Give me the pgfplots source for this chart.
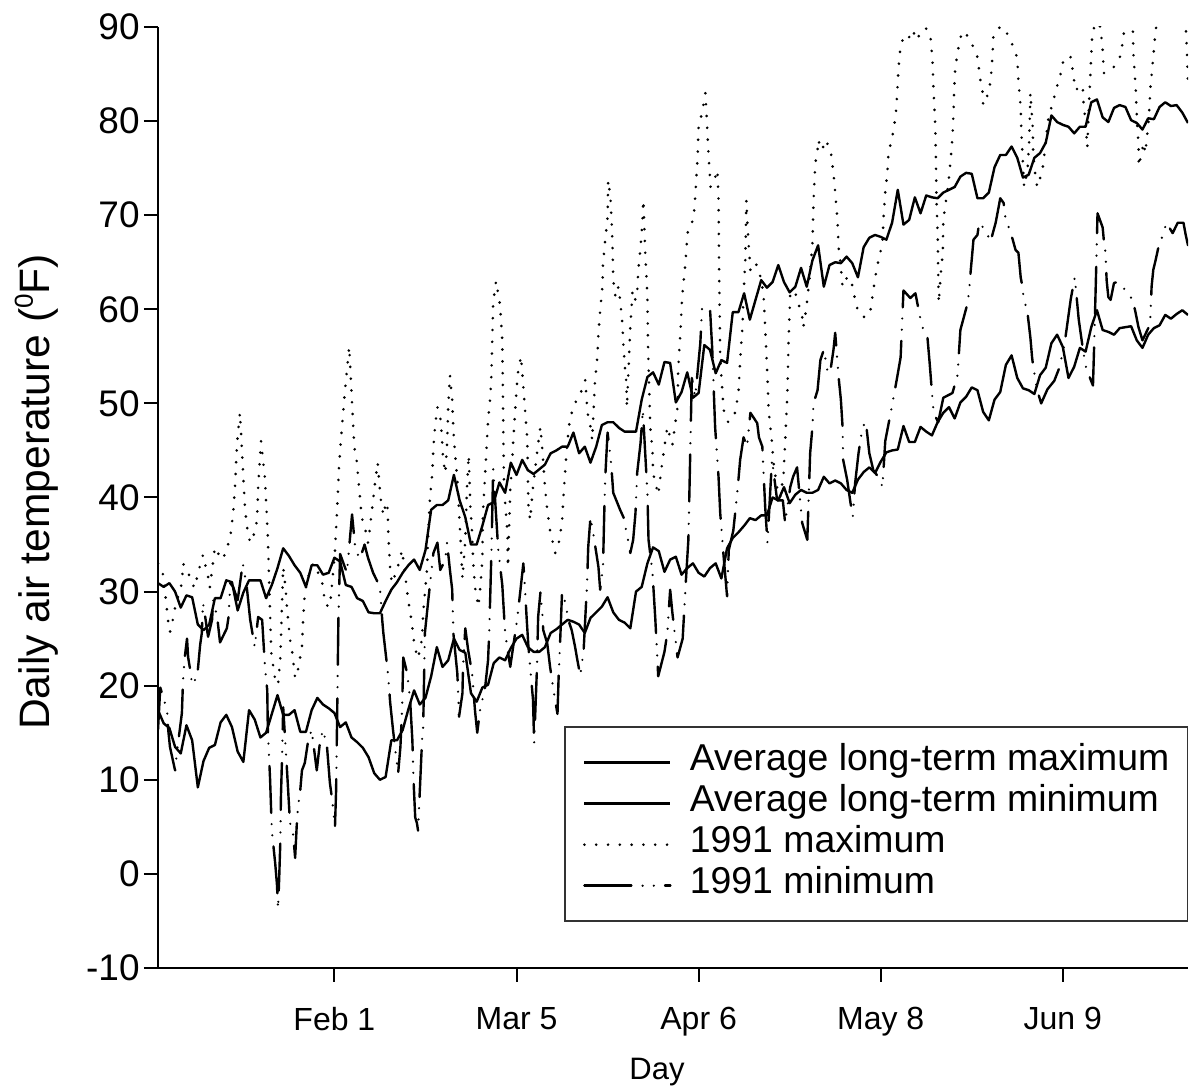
\documentclass[border=0pt]{standalone}
\usepackage{fontspec}
\setmainfont{Liberation Sans}
\usepackage{pgfplots}
\pgfplotsset{compat=1.18}

% daily averages (long-term)
\pgfplotstableread{
day ltmax ltmin
1 30.9 17.4
2 30.5 16.0
3 30.9 15.5
4 30.0 13.5
5 28.3 12.8
6 29.6 15.8
7 29.4 14.2
8 26.5 9.2
9 25.9 12.0
10 26.5 13.4
11 29.3 13.7
12 29.3 16.1
13 31.2 16.9
14 31.0 15.6
15 28.0 13.0
16 29.9 11.9
17 31.2 17.4
18 31.2 16.4
19 31.2 14.5
20 29.3 15.0
21 30.7 17.0
22 32.5 19.0
23 34.6 16.9
24 33.8 16.9
25 32.8 17.4
26 32.0 15.1
27 30.5 15.1
28 32.8 17.4
29 32.8 18.7
30 31.8 18.0
31 32.0 17.6
32 33.6 17.1
33 33.2 15.6
34 30.7 16.1
35 30.5 14.5
36 29.3 14.0
37 29.0 13.4
38 27.8 12.4
39 27.7 10.7
40 27.7 10.0
41 29.0 10.3
42 30.2 14.2
43 31.0 14.2
44 32.0 15.3
45 32.8 17.5
46 33.4 19.5
47 32.3 18.0
48 34.4 18.7
49 38.7 21.0
50 39.2 24.1
51 39.2 22.0
52 39.7 22.7
53 42.4 25.0
54 39.7 23.8
55 37.9 23.5
56 35.0 19.2
57 35.0 18.3
58 37.0 19.8
59 39.2 20.1
60 39.5 22.4
61 41.6 23.0
62 40.5 22.7
63 43.7 24.0
64 42.4 25.0
65 44.0 25.4
66 42.9 24.1
67 42.5 23.6
68 43.0 23.6
69 43.5 24.1
70 44.7 25.6
71 45.0 26.0
72 45.4 26.5
73 45.4 27.0
74 46.9 26.8
75 44.7 26.5
76 45.4 25.6
77 43.7 27.2
78 45.4 27.8
79 47.7 28.4
80 48.0 29.4
81 48.0 27.8
82 47.4 27.0
83 47.0 26.7
84 47.0 26.1
85 47.0 30.0
86 50.4 30.5
87 52.8 33.0
88 53.3 34.7
89 52.0 34.3
90 54.4 32.1
91 54.3 33.4
92 50.1 33.7
93 51.2 31.8
94 53.3 32.5
95 50.6 33.0
96 51.1 32.0
97 56.2 31.6
98 55.7 32.5
99 53.2 33.0
100 54.6 31.4
101 54.3 34.6
102 59.7 35.7
103 59.7 36.3
104 61.7 37.0
105 58.9 37.8
106 61.0 37.6
107 63.1 38.1
108 62.3 38.1
109 62.9 40.0
110 64.7 39.7
111 62.9 41.1
112 61.8 39.4
113 62.4 40.3
114 64.4 40.8
115 62.4 40.5
116 65.2 40.5
117 66.8 40.8
118 62.4 42.2
119 64.7 41.5
120 65.0 41.8
121 64.9 41.5
122 65.6 40.8
123 64.9 40.5
124 63.4 41.9
125 66.6 42.7
126 67.6 43.2
127 67.9 42.6
128 67.7 43.8
129 67.4 44.8
130 69.2 45.0
131 72.7 45.1
132 69.0 47.6
133 69.5 45.9
134 71.9 45.9
135 70.2 47.5
136 72.1 47.0
137 71.9 46.6
138 71.8 48.0
139 72.4 49.0
140 72.7 49.6
141 73.0 48.4
142 74.1 50.1
143 74.5 50.7
144 74.4 51.7
145 71.8 51.4
146 71.8 49.1
147 72.4 48.2
148 75.1 50.4
149 76.4 51.2
150 76.4 54.1
151 77.3 55.1
152 76.1 52.7
153 74.0 51.6
154 74.3 51.4
155 76.1 51.0
156 76.6 53.0
157 77.7 53.8
158 80.6 56.4
159 79.9 57.3
160 79.6 56.0
161 79.4 52.7
162 78.7 53.9
163 79.4 55.9
164 79.4 55.5
165 82.0 58.1
166 82.3 59.9
167 80.4 57.8
168 79.9 57.6
169 81.4 57.3
170 81.7 58.0
171 81.5 58.1
172 80.1 58.2
173 79.8 56.7
174 79.1 55.9
175 80.3 57.3
176 80.2 58.0
177 81.5 58.3
178 82.0 59.4
179 81.6 59.0
180 81.7 59.5
181 80.9 59.9
182 79.8 59.4
}\longterm

\begin{document}
\begin{tikzpicture}
\begin{axis}[
  at={(0,0)}, anchor=south west,
  scale only axis, width=515bp, height=470.5bp,
  xmin=1, xmax=182, ymin=-10, ymax=90,
  axis lines=left,
  every outer x axis line/.append style={-, line width=1bp},
  every outer y axis line/.append style={-, line width=1bp},
  tick align=outside, major tick length=7bp,
  tick style={line width=1bp, black},
  xtick={32,64,96,128,160},
  xticklabels={Feb 1, Mar 5, Apr 6, May 8, Jun 9},
  ytick={-10,0,...,90},
  /pgf/number format/assume math mode=true,
  xticklabel style={anchor=north, inner sep=0pt, yshift=-12.5bp,
    font=\fontsize{16bp}{16bp}\selectfont},
  yticklabel style={anchor=east, inner sep=0pt, xshift=-2bp,
    font=\fontsize{18.5bp}{18.5bp}\selectfont},
  xlabel={Day},
  xlabel style={at={(axis description cs:0.4845,-0.119)}, anchor=base,
    font=\fontsize{15.5bp}{15.5bp}\selectfont},
  ylabel={Daily air temperature (\raisebox{0.75ex}{\fontsize{13bp}{13bp}\selectfont 0}F)},
  ylabel style={at={(axis description cs:-0.105,0.506)}, anchor=base,
    font=\fontsize{21.3bp}{21.3bp}\selectfont},
  every axis plot/.append style={line width=1.2bp, black, line join=round},
  legend cell align=left,
  legend image code/.code={\draw[#1] (0bp,0bp) -- (43bp,0bp);},
  legend style={at={(1,0.049)}, anchor=south east,
    draw=black!80, line width=0.7bp, fill=white,
    inner xsep=9bp, inner ysep=7.5bp,
    column sep=9bp, row sep=0bp,
    font=\fontsize{18.7bp}{18.7bp}\selectfont,
    nodes={inner sep=0pt, text height=14.2bp, text depth=6.3bp}},
]
\addplot[solid] table[x=day, y=ltmax] {\longterm};
\addlegendentry{Average long-term maximum}
\addplot[solid] table[x=day, y=ltmin] {\longterm};
\addlegendentry{Average long-term minimum}
\addplot[line width=1.45bp, line cap=round, dash pattern=on 0bp off 5.9bp] coordinates {
(1,33)(1.9,31.8)(2.8,26.8)(3.1,25.7)(3.6,27)(4,28.3)(5.2,30.9)(5.4,33)(6.3,32)(7,30.9)(7.4,30.4)(7.9,31.6)(8.4,32.8)(8.9,33.9)(9.8,31.6)(10.1,30.4)(10.5,32.3)(11,34.7)(11.5,34.1)(12.4,33.4)(13.1,34.6)(13.7,35.8)(14.2,38.3)(14.5,40.8)(14.9,45.8)(15.4,49)(16.3,38.7)(16.8,36.2)(17.2,35.2)(18,36.3)(18.4,37.6)(18.6,41.1)(19.1,46)(19.8,42)(20.3,35.8)(20.9,23.5)(21.6,20.6)(22.1,20.1)(22.5,23)(22.8,28.8)(23,32.6)(23.4,30.5)(23.7,28)(24.2,24.9)(24.6,23.5)(25.1,20.8)(25.6,21.7)(26.3,24.1)(26.5,27)(26.8,29.9)(27.4,31.6)(28.3,33)(29.8,31.2)(30.4,28.6)(31.2,28.4)(31.6,30.9)(32.1,34.4)(32.5,39)(32.8,43.2)(33.1,45.8)(33.8,51)(34.6,56)(35.5,45.3)(35.9,44)(36.8,37.9)(37.6,36.2)(37.9,35.2)(38.2,36.5)(38.6,38.7)(38.9,40.3)(39.2,41.9)(39.6,43.7)(39.8,42.2)(40.1,40)(40.6,38.1)(40.9,39)(41.3,39.5)(41.5,35.8)(41.8,32.3)(42.1,30.9)(43,32.3)(43.9,34.4)(44.4,32)(44.9,29.4)(45.6,26.7)(46.1,24.1)(46.7,22.9)(47.4,25)(47.6,27.8)(48.3,32.6)(48.5,36.5)(48.8,40)(49.2,42.6)(49.4,45.4)(49.7,47.7)(50.1,49.6)(50.6,48.6)(50.9,46.4)(51.1,44)(51.5,42.6)(51.8,45.8)(52,49.6)(52.3,53)(52.7,50.4)(52.9,47.2)(53.2,44.7)(53.6,41.9)(54.1,36.2)(54.5,31.4)(55,35.5)(55.3,41.1)(55.6,44.5)(55.9,39)(56.2,36.2)(56.4,33)(56.7,30.5)(57.3,28.4)(57.6,30.2)(58,33.4)(58.1,38.4)(58.5,42.6)(59,48.2)(59.4,50.7)(59.6,53.2)(59.7,55.7)(59.9,60.7)(60.4,63)(61.1,60.5)(61.5,56.7)(61.6,51.7)(61.7,46.1)(61.8,41.1)(62.2,37.9)(62.4,36.2)(62.5,32.6)(62.9,40.8)(63.2,43.2)(63.4,45.8)(63.8,49.6)(64.1,52.2)(64.3,53.5)(64.8,55)(65.2,51.7)(65.5,49.3)(65.9,46.1)(66,41.9)(66.1,39)(66.4,37.6)(66.9,41.1)(67.6,44.7)(68.2,47.5)(68.5,45.4)(68.7,43.7)(69,41.1)(69.4,38.7)(69.9,36.5)(70.8,34.1)(71.3,34.7)(72,37.3)(72.2,39.7)(72.6,43.2)(72.9,45.8)(73.4,48.4)(74,49.6)(74.8,50.7)(75.5,51.4)(76.1,52.5)(76.4,49.6)(76.6,48.6)(77,47.5)(77.3,46.1)(77.8,52.5)(78.2,54.9)(78.4,57.5)(78.7,59.9)(79.1,62.4)(79.2,64.9)(79.6,67.4)(80,69.8)(80.1,73.7)(80.5,72)(80.8,68.1)(80.9,66)(81,63.1)(81.4,61.3)(81.9,62.4)(82.2,61)(82.6,58.5)(82.8,56)(83.1,53.5)(83.3,52.2)(83.4,49.6)(84,58.1)(84.4,62)(84.9,61)(85.2,61.7)(85.4,64.2)(85.8,66.6)(86.1,69.2)(86.3,71.6)(86.6,66.3)(87,61.3)(87.1,56.4)(87.5,47.5)(87.9,45)(88,42.6)(88.9,40.3)(89.6,43.7)(90.5,47.5)(91,46.4)(91.4,45.6)(91.9,47.9)(92.3,49.6)(92.4,53.5)(92.8,57.5)(93.1,61.3)(93.7,65)(94,67.7)(94.2,68.7)(95.1,69.5)(95.4,71.9)(95.8,75.9)(96,79.4)(96.6,80.9)(97.2,83)(97.5,79.4)(97.7,76.9)(98.1,73)(98.6,73.4)(99.3,74.8)(99.5,71.6)(99.55,68.1)(99.6,64.2)(99.7,59.9)(99.8,54.6)(100.2,51.1)(100.4,49.3)(101.2,48)(102.4,49)(103,51.1)(103.3,54.6)(103.7,58.1)(103.9,61.7)(104.2,65.2)(104.4,71.6)(104.7,67.7)(105.1,64.2)(106,65)(106.8,63.6)(107.4,61.7)(107.7,58.1)(108.1,52.8)(108.3,49.3)(108.9,45.8)(109.1,44)(109.8,41)(110.3,40)(110.9,42.2)(111.2,45.8)(111.6,51.1)(111.8,56.4)(112.1,61.7)(112.5,62)(113,61.7)(113.5,60.7)(114.2,59.2)(114.4,58.1)(114.9,60)(115.6,63.9)(116,67)(116.2,71.6)(116.5,75.5)(116.9,76.9)(117,78)(117.7,76.9)(118.3,78)(119.2,76.9)(119.7,74.5)(120,72.4)(120.4,69.5)(120.6,66.6)(121,64.5)(121.3,62.4)(122.1,63.4)(122.7,63.3)(123.2,62)(123.5,61)(124.1,59.6)(125.3,59.1)(126.2,59.9)(126.7,62)(127.1,63.6)(127.6,65.2)(128.3,67)(128.5,69.8)(128.8,72.4)(129.2,74.8)(129.4,76.9)(130,78)(130.2,79.1)(130.6,80.3)(130.9,83)(131.1,85.4)(131.5,88.1)(132.2,89.1)(132.9,88.8)(133.6,89.7)(134.3,88.6)(135,89.4)(135.9,89.9)(136.7,89.2)(137.1,86.5)(137.3,83)(137.6,79.4)(137.7,75.9)(137.8,71.6)(138,68.1)(138.1,64.2)(138.2,60.7)(138.5,63.4)(138.9,66)(139,69.5)(139.9,73.4)(140.3,75.9)(140.6,78.3)(140.8,80.9)(140.9,83.3)(141.1,85.7)(141.5,87.2)(141.8,88.3)(142.3,89.5)(142.9,89.4)(144.1,88.1)(145,86.8)(145.5,84.4)(145.9,83.1)(146,81.7)(146.8,82.8)(147.3,84.2)(147.6,86.5)(147.8,89)(148.7,89.9)(149.6,90)(150.3,89.2)(151.3,87.9)(152,86.7)(152.2,84.2)(152.6,81.5)(152.7,79)(152.9,76.6)(153.1,74.1)(153.2,73)(153.8,74.8)(154.1,78)(154.3,83)(154.7,79.4)(154.8,76.6)(155.2,74.1)(155.5,73)(156.1,74.1)(156.6,75.5)(157,78)(157.5,80.4)(158.2,81.9)(158.7,83)(159.2,84.2)(159.9,85.6)(160.1,86.7)(161.4,86.8)(161.9,84.7)(162.2,83.3)(163.5,83.8)(163.6,82.2)(164,79.8)(164.3,77.2)(164.6,81.7)(164.9,85.7)(165.2,89.5)(165.9,90.5)(166.6,90)(167,87.6)(167.2,85.1)(168.8,85.6)(170.2,87)(170.8,89.7)(171.5,90.5)(172.3,90)(172.4,87.2)(172.8,83.6)(173.1,79.1)(173.3,77.7)(173.35,75.2)(174.2,77.7)(174.5,76.6)(175.1,80.1)(175.4,83.6)(175.8,86.2)(176.3,89.7)(177.3,92)(179,93)(180.5,92)(181.6,90)(181.8,87.6)(182,84)
};
\addlegendentry{1991 maximum}
\addplot[line cap=round, dash pattern=on 23.5bp off 5.6bp on 0bp off 5.6bp on 0bp off 5.6bp] coordinates {
(1,15.3)(1.4,19.8)(2.6,17.4)(2.8,15.3)(3.1,13.5)(4,11)(4.3,12.8)(5.2,17.1)(5.4,20.6)(5.7,23)(6.1,25)(6.3,23)(6.6,21.9)(7,20.1)(7.9,21)(8.4,24.3)(8.7,25.6)(8.9,28.8)(9.3,27.3)(9.8,25.2)(10.5,27)(10.7,29.1)(11.4,27.3)(11.9,24.6)(13.1,26.1)(13.4,27.3)(13.7,30.9)(14.2,30.5)(15,29.1)(15.9,33)(16.6,30.5)(17.2,27)(17.7,25.2)(18,24.1)(18.6,27.3)(19.3,27)(19.8,22)(20.2,19.5)(20.3,15.3)(20.7,10)(21,4.6)(21.6,1.1)(21.9,-1.1)(22.1,-3.7)(22.3,-0.4)(22.5,3.5)(22.6,8.1)(22.8,12.4)(23,17.7)(23.7,10.7)(24.2,5.4)(24.7,4.6)(25.1,1.7)(25.4,5.4)(25.6,7.1)(26,8.9)(26.3,11)(26.8,11.8)(27.4,14.2)(28,15.3)(28.9,11)(29.5,14.2)(30,15.3)(30.7,13.5)(31.2,9.7)(31.6,7.9)(32.1,5)(32.3,8.9)(32.5,17.7)(32.7,27)(33,34)(34.2,32)(35.1,38.2)(35.7,34.4)(36.5,33.5)(37.3,35)(37.9,33.6)(38.8,32)(40,30.5)(40.4,27)(40.6,25.6)(41.3,21.9)(41.5,20.6)(41.8,18.2)(42.3,15.3)(42.7,13.2)(43.2,10.7)(43.6,13.5)(43.9,17.7)(44.1,23)(44.8,21.3)(45.3,18.5)(45.7,14.2)(45.9,10)(46.2,6)(46.5,5.4)(46.7,4.6)(47.4,14.2)(47.6,15.6)(47.9,25.6)(48.5,29.1)(49.4,34.1)(50.1,35.2)(50.6,32.3)(51.5,33.4)(51.8,35.2)(52.3,32.3)(52.7,30.2)(52.9,25.6)(53.6,21.3)(53.9,16.7)(54.5,19.2)(54.6,22)(55,26.1)(55.5,23.8)(56.2,21.3)(56.7,17.4)(57.1,15)(57.6,17.4)(58.5,19.9)(59,22.7)(59.2,25.6)(59.4,29.9)(59.6,34.4)(59.9,43)(60.8,34.4)(61.5,30.7)(62,25.6)(62.9,22)(64.1,27)(64.7,30.2)(65.2,33)(65.5,30.2)(65.8,27)(66.1,24.1)(66.4,22)(66.9,18.5)(67.1,13.9)(67.6,22)(67.8,27.3)(68.2,29.9)(68.5,28)(68.7,25.9)(69.4,24.5)(69.9,22)(70.5,19.5)(71.2,17)(71.4,20.9)(71.7,25.2)(72,29.9)(72.6,28.8)(73.1,27)(73.7,25.9)(74.3,24.1)(74.7,22.7)(75.2,21.1)(75.8,23.8)(76.4,30.9)(76.6,34.7)(77,37.9)(77.3,36.9)(78.2,33.4)(78.4,32.6)(78.7,30.2)(79.2,32.6)(79.4,37.9)(79.6,42.2)(80,46.9)(80.5,44.4)(80.8,42.2)(81,40.5)(82.2,38.7)(82.8,37.9)(83.5,35.8)(84,34.1)(84.5,35.5)(84.9,38.3)(85.2,42.6)(85.8,45.8)(86.2,49.3)(87,40.5)(87.2,35.5)(87.9,32)(88.4,27)(88.9,21)(90,23.6)(90.5,25.6)(91,30.2)(91.4,27.7)(92.3,23)(93.2,25)(93.7,30.5)(94.2,35.5)(94.4,41)(94.8,52.7)(95.4,50.7)(96.3,56.4)(96.6,60.1)(98,60.1)(98.4,55.7)(98.9,47.5)(99.5,42.2)(99.8,38.3)(100.4,33.7)(101,29.5)(101.3,34.4)(102.1,36.5)(102.8,40.5)(103.3,44)(103.9,46.4)(104.5,45.4)(105.1,49)(106.3,47.9)(106.6,46.4)(107.2,45.4)(107.7,39)(108.1,35.2)(108.6,40.8)(108.9,44)(109.8,39.7)(110.8,39.7)(111.2,37.3)(112.1,41.1)(112.6,42.2)(113.3,43.2)(114.2,37.3)(115.1,35.5)(115.6,44.7)(116,47.5)(116.2,50)(116.9,51.4)(117.4,54.6)(118,55.7)(118.6,53.6)(119.1,53.2)(119.7,55.7)(120,57.5)(120.6,52.8)(121,50.4)(121.3,47.5)(121.4,44)(122.1,41.9)(122.7,39.4)(123.1,38)(123.5,41.5)(124.1,44.7)(124.8,47.5)(125.4,48)(126,44.7)(126.7,42.9)(127.9,41.9)(128.3,41.1)(128.8,46)(130,49.8)(130.9,52.8)(131.5,54.9)(132,62)(133.2,61.2)(134.1,61.7)(135,58.9)(135.4,58)(136.2,57.1)(136.6,54.3)(137.1,50.4)(137.3,49)(138.1,48)(139,50.6)(140.6,51.1)(141.5,53)(142,57.8)(143.2,60.5)(143.5,61.7)(143.8,64)(144.1,66)(144.3,67.4)(145,67.9)(145.3,69.2)(146.4,68.4)(147.3,67.2)(148.2,69.2)(148.7,70.8)(149,71.8)(149.6,71.3)(149.9,69.8)(151.2,67.4)(151.7,66.3)(152.2,66)(152.6,63.4)(152.9,62.4)(153.1,61.3)(153.8,59.6)(154.3,57)(154.6,54.9)(154.8,53.9)(155.2,52.5)(155.5,51.4)(156.2,50)(157.3,51.5)(158.5,52.4)(159.4,53.8)(160.3,56.3)(161.4,61.1)(162.1,63.4)(162.8,58.9)(163.5,55.9)(164,54)(164.9,52.5)(165.3,51.9)(165.5,56)(165.8,62.8)(166.1,70.2)(167,68.7)(167.2,67.4)(167.5,66)(167.7,63.1)(168,61.3)(168.4,61)(169,62.8)(169.6,62.9)(170.5,62.4)(171,62)(172.3,61)(172.8,59.6)(173.3,58.1)(174,56.7)(175.1,58.1)(175.4,59.2)(175.6,62.4)(175.9,64.2)(176.3,65.2)(176.8,66.6)(177.7,68.1)(178.2,69.2)(179.3,68.1)(180.2,69.2)(181.2,69.2)(181.6,67.9)(182,66.8)
};
\addlegendentry{1991 minimum}
\end{axis}
\pgfresetboundingbox
\path[use as bounding box] (-79bp,-61bp) rectangle (519bp,484bp);
\end{tikzpicture}
\end{document}
